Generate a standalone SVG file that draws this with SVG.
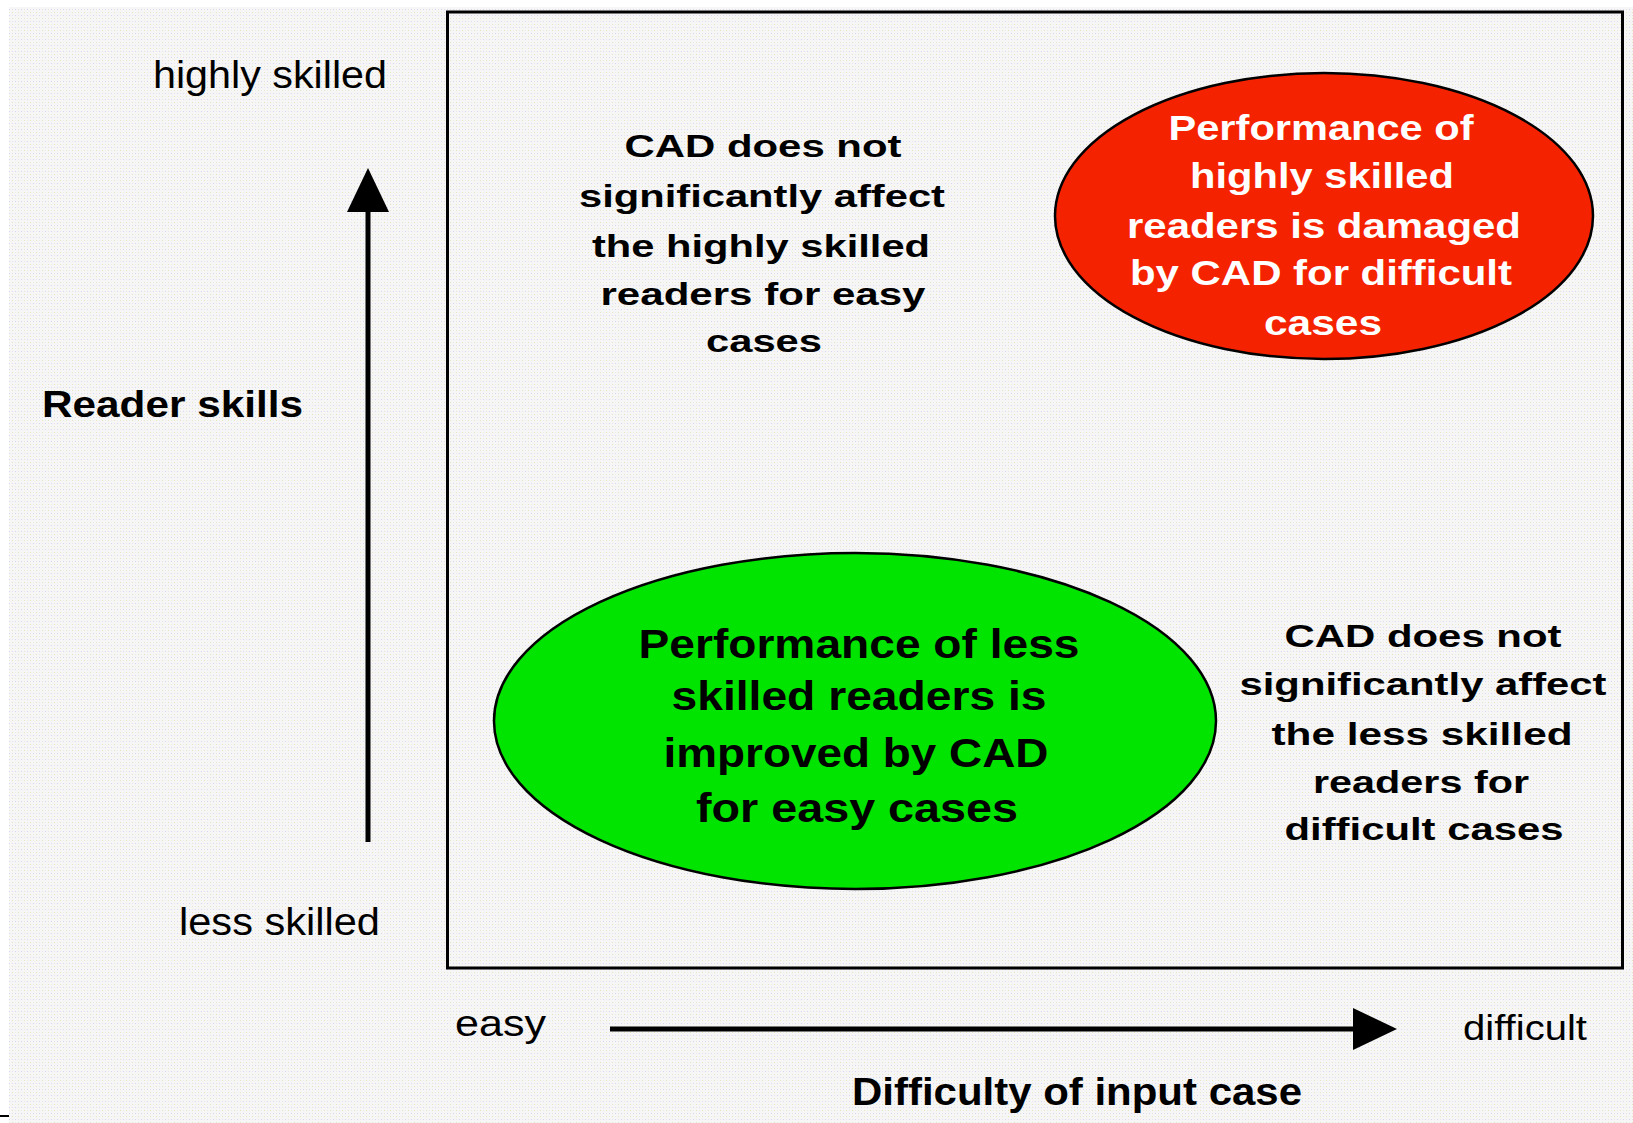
<svg xmlns="http://www.w3.org/2000/svg" width="1633" height="1123" viewBox="0 0 1633 1123">
  <style>
    .lbl { font-family: "Liberation Sans", Arial, sans-serif; fill: #000; }
    .bold { font-weight: bold; }
    .mid { text-anchor: middle; }
    .note { font-family: "Liberation Sans", Arial, sans-serif; font-weight: bold; font-size: 32px; fill: #000; text-anchor: middle; }
    .red-txt { font-family: "Liberation Sans", Arial, sans-serif; font-weight: bold; font-size: 35px; fill: #fff; text-anchor: middle; }
    .green-txt { font-family: "Liberation Sans", Arial, sans-serif; font-weight: bold; font-size: 41px; fill: #000; text-anchor: middle; }
    .axis { stroke: #000; stroke-width: 5; fill: none; }
    .bubble { stroke: #000; stroke-width: 2.5; }
  </style>
  <defs>
    <!-- light dithered paper texture -->
    <pattern id="dots" width="6" height="6" patternUnits="userSpaceOnUse">
      <rect width="6" height="6" fill="#f6f6f6"/>
      <rect x="0" y="0" width="1" height="1" fill="#e6e4bc"/>
      <rect x="3" y="3" width="1" height="1" fill="#d6d6ee"/>
      <rect x="3" y="0" width="1" height="1" fill="#eeeee0"/>
      <rect x="0" y="3" width="1" height="1" fill="#ecdfe8"/>
    </pattern>
    <marker id="head" markerUnits="userSpaceOnUse" markerWidth="44" markerHeight="42" refX="2" refY="21" orient="auto">
      <path d="M0,0 L44,21 L0,42 Z" fill="#000"/>
    </marker>
  </defs>

  <rect width="1633" height="1123" fill="#ffffff"/>
  <rect x="9" y="7" width="1624" height="1116" fill="url(#dots)"/>
  <line x1="0" y1="1116" x2="9" y2="1116" stroke="#000" stroke-width="2"/>

  <!-- chart frame -->
  <rect id="frame" x="447.5" y="12" width="1175" height="956" fill="none" stroke="#000" stroke-width="3"/>

  <!-- axes -->
  <g id="connectors">
    <line class="axis" x1="368" y1="842" x2="368" y2="210" marker-end="url(#head)"/>
    <line class="axis" x1="610" y1="1029" x2="1355" y2="1029" marker-end="url(#head)"/>
  </g>

  <!-- axis labels -->
  <g id="axis-labels">
    <text class="lbl" x="153" y="88" font-size="38" textLength="234" lengthAdjust="spacingAndGlyphs">highly skilled</text>
    <text class="lbl bold" x="42" y="417" font-size="37" textLength="261" lengthAdjust="spacingAndGlyphs">Reader skills</text>
    <text class="lbl" x="179" y="935" font-size="38" textLength="201" lengthAdjust="spacingAndGlyphs">less skilled</text>
    <text class="lbl" x="455" y="1036" font-size="36" textLength="91" lengthAdjust="spacingAndGlyphs">easy</text>
    <text class="lbl" x="1463" y="1040" font-size="35" textLength="124" lengthAdjust="spacingAndGlyphs">difficult</text>
    <text class="lbl bold" x="852" y="1105" font-size="38" textLength="450" lengthAdjust="spacingAndGlyphs">Difficulty of input case</text>
  </g>

  <!-- easy cases, highly skilled readers -->
  <g id="note-easy-high">
    <text class="note" x="763" y="157" textLength="277" lengthAdjust="spacingAndGlyphs">CAD does not</text>
    <text class="note" x="762" y="207" textLength="366" lengthAdjust="spacingAndGlyphs">significantly affect</text>
    <text class="note" x="761" y="257" textLength="338" lengthAdjust="spacingAndGlyphs">the highly skilled</text>
    <text class="note" x="763" y="305" textLength="325" lengthAdjust="spacingAndGlyphs">readers for easy</text>
    <text class="note" x="764" y="352" textLength="116" lengthAdjust="spacingAndGlyphs">cases</text>
  </g>

  <!-- difficult cases, highly skilled readers -->
  <g id="node-damaged">
    <ellipse class="bubble" cx="1324" cy="216" rx="269" ry="143" fill="#f52200"/>
    <text class="red-txt" x="1321" y="140" textLength="305" lengthAdjust="spacingAndGlyphs">Performance of</text>
    <text class="red-txt" x="1322" y="188" textLength="264" lengthAdjust="spacingAndGlyphs">highly skilled</text>
    <text class="red-txt" x="1324" y="238" textLength="394" lengthAdjust="spacingAndGlyphs">readers is damaged</text>
    <text class="red-txt" x="1321" y="285" textLength="382" lengthAdjust="spacingAndGlyphs">by CAD for difficult</text>
    <text class="red-txt" x="1323" y="335" textLength="118" lengthAdjust="spacingAndGlyphs">cases</text>
  </g>

  <!-- easy cases, less skilled readers -->
  <g id="node-improved">
    <ellipse class="bubble" cx="855" cy="721" rx="361" ry="168" fill="#00e400"/>
    <text class="green-txt" x="859" y="658" textLength="441" lengthAdjust="spacingAndGlyphs">Performance of less</text>
    <text class="green-txt" x="859" y="710" textLength="375" lengthAdjust="spacingAndGlyphs">skilled readers is</text>
    <text class="green-txt" x="856" y="767" textLength="385" lengthAdjust="spacingAndGlyphs">improved by CAD</text>
    <text class="green-txt" x="857" y="822" textLength="322" lengthAdjust="spacingAndGlyphs">for easy cases</text>
  </g>

  <!-- difficult cases, less skilled readers -->
  <g id="note-difficult-less">
    <text class="note" x="1423" y="647" textLength="277" lengthAdjust="spacingAndGlyphs">CAD does not</text>
    <text class="note" x="1423" y="695" textLength="367" lengthAdjust="spacingAndGlyphs">significantly affect</text>
    <text class="note" x="1422" y="745" textLength="301" lengthAdjust="spacingAndGlyphs">the less skilled</text>
    <text class="note" x="1421" y="793" textLength="216" lengthAdjust="spacingAndGlyphs">readers for</text>
    <text class="note" x="1424" y="840" textLength="279" lengthAdjust="spacingAndGlyphs">difficult cases</text>
  </g>
</svg>
